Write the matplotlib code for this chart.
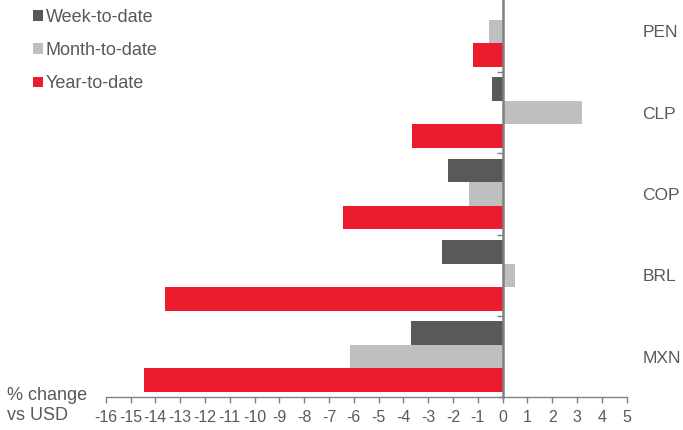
import numpy as np
import matplotlib.pyplot as plt
from matplotlib.ticker import FixedLocator

# --- datos ---
monedas = ['PEN', 'CLP', 'COP', 'BRL', 'MXN']
semana = [0.0, -0.43, -2.22, -2.43, -3.68]
mes = [-0.54, 3.21, -1.36, 0.50, -6.14]
anio = [-1.19, -3.66, -6.45, -13.62, -14.44]
series = ['Week-to-date', 'Month-to-date', 'Year-to-date']
colores = ['#595959', '#BFBFBF', '#ED1B2E']
xticks = list(range(-16, 6))

plt.rcParams['font.family'] = ['Liberation Sans', 'DejaVu Sans']
gris = '#595959'

fig = plt.figure(figsize=(6.83, 4.30), dpi=100)
ax = fig.add_axes([0.1548, 0.076, 0.7626, 0.9456])

y = np.arange(len(monedas))
alto = 0.29
for i, (vals, nombre, col) in enumerate(zip([semana, mes, anio], series, colores)):
    ax.barh(y + (i - 1) * alto, vals, height=alto, color=col, label=nombre,
            edgecolor='none')

ax.set_xlim(-16, 5)
ax.set_ylim(len(monedas) - 0.5, -0.5)

# eje vertical en cero con marcas entre categorías
ax.spines['left'].set_position(('data', 0))
ax.spines['left'].set_color('#808080')
ax.spines['left'].set_linewidth(1.8)
ax.spines['bottom'].set_color('#808080')
ax.spines['bottom'].set_linewidth(1.0)
ax.spines['top'].set_visible(False)
ax.spines['right'].set_visible(False)

ax.set_yticks(y)
ax.set_yticklabels(monedas)
ax.yaxis.set_minor_locator(FixedLocator(np.arange(-0.5, len(monedas), 1.0)))
ax.tick_params(axis='y', which='major', left=False, right=False,
               labelleft=False, labelright=True, pad=8,
               labelsize=12.5, labelcolor=gris)
ax.tick_params(axis='y', which='minor', left=True, right=False,
               direction='out', length=4, width=1, color='#808080')

ax.set_xticks(xticks)
ax.set_xticklabels([str(t) for t in xticks])
ax.tick_params(axis='x', direction='out', length=4, width=1, color='#808080',
               labelsize=11.5, labelcolor=gris, pad=5)

fig.text(0.010, 0.081, '% change', fontsize=13, color=gris, va='center')
fig.text(0.010, 0.033, 'vs USD', fontsize=13, color=gris, va='center')

leg = ax.legend(loc='upper left', bbox_to_anchor=(-0.153, 0.973), frameon=False,
                fontsize=13, labelcolor=gris, handlelength=0.55,
                handleheight=0.55, handletextpad=0.15, labelspacing=0.9,
                borderaxespad=0)

fig.savefig('out.png', dpi=100)
